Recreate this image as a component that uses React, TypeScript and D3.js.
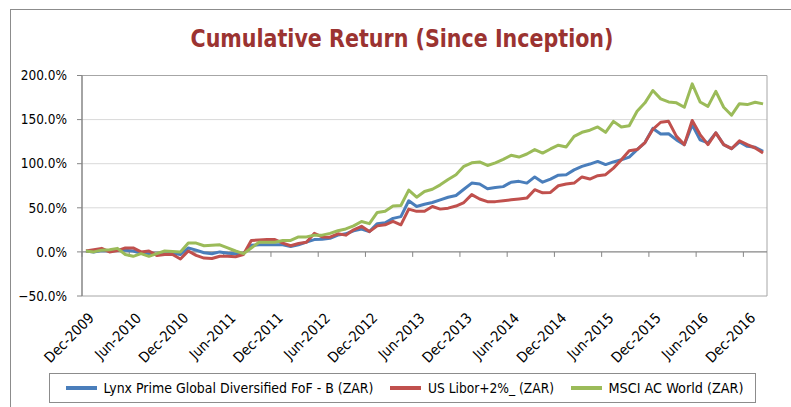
import React from 'react';
import * as d3 from 'd3';

// Monthly cumulative returns (%), Dec-2009 .. Feb-2017
const lynx = [
  1, 0, 1.5, 1, 2, 2, 1, -1.5, -2, -3, -2, -1.5, -3, 4.5, 2, -1, -2, 0, -1.5, -2, -2,
  7.5, 8, 8, 8, 8, 6, 8, 11, 14, 14.4, 15.5, 19, 20.5, 24, 26, 23, 32, 33, 38, 40,
  58, 51.5, 54, 56, 59, 62, 64, 71, 78, 77, 71.6, 73, 74, 79, 80, 78, 85, 79, 82.6,
  87, 87.5, 93, 97, 99.6, 102.6, 99, 102, 104.5, 107.5, 116, 124, 140, 133.7, 134,
  127, 121.6, 144, 127, 123.5, 135, 121.6, 117, 124.6, 119.7, 118.6, 114,
];
const libor = [
  1, 2.5, 4, 0, 1.5, 4.5, 4.5, 0, 1, -4, -3, -3, -8, 1, -4, -7, -7.5, -5, -5, -5.5, -3,
  13, 13.5, 14, 14, 10, 7, 9.5, 11, 21, 17, 16.7, 20.5, 19, 25, 29, 23, 29.5, 30.7,
  34.5, 30.7, 48.5, 46, 46, 51.5, 48.5, 49.6, 52, 56, 65, 60, 57, 57, 58, 59, 60, 61,
  70.5, 67, 67.4, 75, 77, 78, 85, 82.6, 86.4, 87.5, 95, 104.5, 114.8, 116, 124, 139,
  147, 148, 131, 121.6, 149, 133, 121.6, 135, 121.6, 117, 126, 121.6, 117.8, 112,
];
const msci = [
  1, 0, 2, 2.5, 4, -3, -5, -2, -5, -2, 1, 0.5, 0, 10, 10, 7, 7.5, 8, 4.5, 1, -2,
  4.5, 11, 11, 11, 13, 13, 17, 17, 19, 19, 21, 24, 26, 29.5, 34.5, 32, 44.7, 46, 52,
  52.6, 70, 62, 68.5, 71, 76, 82, 87.5, 97, 101, 102, 98, 101, 105, 109.5, 107.5, 111,
  116, 112, 116.7, 121, 119, 131, 135.6, 138, 141.7, 135.6, 148, 141.7, 143, 159.5,
  169, 183, 173.5, 170, 169, 164, 190.5, 170, 165, 182, 164, 155, 168, 167, 169.7, 167.8,
];

const tickLabels = [
  'Dec-2009', 'Jun-2010', 'Dec-2010', 'Jun-2011', 'Dec-2011', 'Jun-2012', 'Dec-2012',
  'Jun-2013', 'Dec-2013', 'Jun-2014', 'Dec-2014', 'Jun-2015', 'Dec-2015', 'Jun-2016', 'Dec-2016',
];
const yTicks = [-50, 0, 50, 100, 150, 200];

const series = [
  { name: 'Lynx Prime Global Diversified FoF - B (ZAR)', values: lynx, color: '#4a7ebb' },
  { name: 'US Libor+2%_ (ZAR)', values: libor, color: '#c0504d' },
  { name: 'MSCI AC World (ZAR)', values: msci, color: '#9bbb59' },
];

const W = 791;
const H = 407;
const FONT = "'Liberation Sans Narrow', 'DejaVu Sans Condensed', Roboto, sans-serif";

export default function App() {
  const n = lynx.length;
  const left = 82, right = 767, top = 75.5, bottom = 296;
  const x = d3.scaleLinear().domain([0, n]).range([left, right]);
  const y = d3.scaleLinear().domain([-50, 200]).range([bottom, top]);
  const cx = (i: number) => x(i + 0.5);

  const line = d3.line<number>()
    .x((_, i) => cx(i))
    .y(d => y(d));

  // legend layout: [sample x, text x, text width]
  const legendPos = [
    [66, 103.5, 270],
    [390, 428, 126],
    [571, 608.5, 135],
  ];

  return (
    <svg width={W} height={H} style={{ position: 'absolute', left: 0, top: 0 }} fontFamily={FONT}>
      <rect x={0} y={0} width={W} height={H} fill="#fff" />
      <rect x={10.5} y={9.5} width={W + 20} height={H + 20} fill="none" stroke="#8c8c8c" strokeWidth={1} />

      <text x={402} y={47} textAnchor="middle" fontSize={24} fontWeight="bold" fill="#9b3331"
        textLength={423} lengthAdjust="spacingAndGlyphs">
        Cumulative Return (Since Inception)
      </text>

      {/* gridlines */}
      {yTicks.filter(t => t > 0).map(t => (
        <line key={t} x1={left} x2={right} y1={y(t)} y2={y(t)} stroke="#d9d9d9" strokeWidth={1} />
      ))}
      {/* plot border */}
      <line x1={left} x2={right} y1={bottom} y2={bottom} stroke="#a6a6a6" />
      <line x1={right} x2={right} y1={top} y2={bottom} stroke="#a6a6a6" />
      <line x1={left} x2={right} y1={top} y2={top} stroke="#a6a6a6" />

      {/* y axis */}
      <line x1={left} x2={left} y1={top} y2={bottom} stroke="#868686" strokeWidth={1.5} />
      {yTicks.map(t => (
        <g key={t}>
          <line x1={left - 5} x2={left} y1={y(t)} y2={y(t)} stroke="#868686" />
          <text x={67} y={y(t)} dy="0.35em" textAnchor="end" fontSize={13.5} fill="#000">
            {d3.format('.1f')(t) + '%'}
          </text>
        </g>
      ))}

      {/* category axis at 0 */}
      <line x1={left} x2={right} y1={y(0)} y2={y(0)} stroke="#868686" strokeWidth={1.2} />
      {tickLabels.map((_, k) => (
        <line key={k} x1={x(k * 6)} x2={x(k * 6)} y1={y(0)} y2={y(0) + 5} stroke="#868686" />
      ))}
      {tickLabels.map((lab, k) => (
        <text key={lab} transform={`translate(${cx(k * 6) + 9},${bottom + 23}) rotate(-45)`}
          textAnchor="end" fontSize={14.5} fill="#000">
          {lab}
        </text>
      ))}

      {/* series */}
      {series.map(s => (
        <path key={s.name} d={line(s.values) || ''} fill="none" stroke={s.color}
          strokeWidth={3} strokeLinejoin="round" />
      ))}

      {/* legend */}
      <rect x={49.5} y={373.5} width={706} height={29} fill="#fff" stroke="#8c8c8c" />
      {series.map((s, i) => (
        <g key={s.name}>
          <line x1={legendPos[i][0]} x2={legendPos[i][0] + 31} y1={388} y2={388}
            stroke={s.color} strokeWidth={4} />
          <text x={legendPos[i][1]} y={388} dy="0.35em" fontSize={14.5} fill="#000"
            textLength={legendPos[i][2]} lengthAdjust="spacingAndGlyphs">
            {s.name}
          </text>
        </g>
      ))}
    </svg>
  );
}
